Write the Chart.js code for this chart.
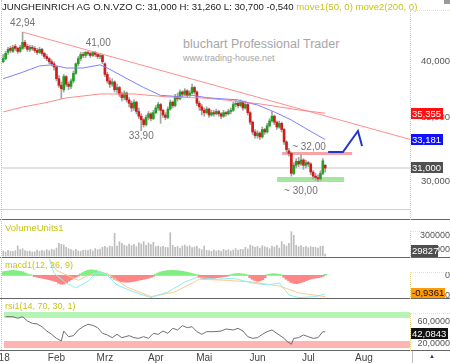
<!DOCTYPE html>
<html lang="de">
<head>
<meta charset="UTF-8">
<title>Jungheinrich Chart</title>
<style>
    body { margin: 0; background: #fff; }
    #wrap { position: relative; width: 450px; height: 363px; overflow: hidden; font-family: "Liberation Sans", Arial, sans-serif; }
    #wrap canvas { position: absolute; left: 0; }
    .txt { position: absolute; white-space: nowrap; }
    .ind { color: #c9c416; }
    .sep { position: absolute; left: 0; width: 450px; height: 1px; background: #666; }
    .rdot { position: absolute; left: 410px; width: 39px; border-left: 1px dotted #e2d27e; border-top: 1px dotted #eee2a8; }
    .ldot { position: absolute; left: 1px; width: 0; border-left: 1px dotted #c4c4c4; }
</style>
</head>
<body>
<div id="wrap">
    <!-- watermark -->
    <div class="txt" style="left:183px;top:37px;font-size:12.5px;color:#a6a6a6;">bluchart Professional Trader</div>
    <div class="txt" style="left:183px;top:53px;font-size:9px;color:#a6a6a6;">www.trading-house.net</div>

    <canvas id="cPrice" width="450" height="219" style="top:0"></canvas>
    <canvas id="cVol" width="450" height="37" style="top:220px"></canvas>
    <canvas id="cMacd" width="450" height="40" style="top:258px"></canvas>
    <canvas id="cRsi" width="450" height="64" style="top:299px"></canvas>

    <div class="txt" id="title" style="left:2px;top:1px;font-size:9.6px;color:#1a1a1a;"></div>
    <div class="txt ind" style="left:5px;top:222px;font-size:9.5px;">VolumeUnits1</div>
    <div class="txt ind" style="left:5px;top:260px;font-size:9px;">macd1(12, 26, 9)</div>
    <div class="txt ind" style="left:5px;top:301px;font-size:9px;">rsi1(14, 70, 30, 1)</div>

    <!-- panel frames -->
    <div style="position:absolute;left:0;top:209px;width:410px;height:1px;background:#d0d0d0;"></div>
    <div class="sep" style="top:219px"></div>
    <div class="sep" style="top:257px"></div>
    <div class="sep" style="top:298px"></div>
    <div class="sep" style="top:350px"></div>
    <div class="ldot" style="top:0;height:350px"></div>
    <div class="rdot" style="top:10px;height:209px"></div>
    <div class="rdot" style="top:231px;height:26px"></div>
    <div class="rdot" style="top:272px;height:26px"></div>
    <div class="rdot" style="top:313px;height:37px"></div>
    <div style="position:absolute;left:444px;top:0;width:6px;height:4px;background:#9a9a9a;"></div>
    <div style="position:absolute;left:412px;top:351px;width:1px;height:12px;background:#bdbdbd;"></div>
    <div class="txt" style="left:429px;top:353px;font-size:6px;color:#23318c;">▲</div>
</div>
<script src="https://cdn.jsdelivr.net/npm/chart.js"></script>
<script>
    // Handelstage: Index 0 = 2. Jan 2018
    const monthDays = [0, 22, 42, 63, 83, 105, 126, 149];
    const monthLabels = ["'18", 'Feb', 'Mrz', 'Apr', 'Mai', 'Jun', 'Jul', 'Aug'];

    const opens = [40.00,40.30,40.90,41.30,41.00,41.50,41.30,41.00,41.30,41.90, 41.50,41.20,41.40,41.30,41.10,40.90,41.20,40.80,40.50,40.30,
        40.00,39.80,39.50,38.40,37.80,37.40,38.60,37.90,37.70,38.20, 38.90,39.80,40.30,40.70,40.60,40.90,40.80,40.60,40.90,40.70,
        40.50,40.60,39.80,38.80,38.20,37.90,38.10,37.40,37.60,37.00, 36.70,37.10,36.50,36.20,35.80,36.30,35.50,35.10,34.80,34.40,
        35.00,35.30,34.90,35.40,35.80,36.10,35.60,35.20,35.00,35.70, 36.30,36.00,36.80,36.60,37.20,37.00,37.30,36.90,37.10,37.60,
        37.20,36.20,35.90,35.60,35.40,35.70,35.20,35.40,35.30,35.50, 35.30,35.10,35.40,35.30,35.50,35.60,36.10,36.20,36.00,36.30,
        35.80,36.10,35.40,34.60,33.80,33.50,33.70,33.40,34.00,33.80, 34.30,34.70,35.10,34.60,34.20,34.50,34.00,33.00,32.30,32.10,
        30.60,31.20,31.50,31.30,31.60,31.20,31.40,31.30,30.70,30.40, 30.30,30.20,30.60,31.20];
    const highs = [40.70,41.00,41.40,41.50,41.60,41.70,41.40,41.60,42.94,42.10, 41.70,41.60,41.60,41.50,41.30,41.40,41.30,40.90,40.70,40.40,
        40.20,40.00,39.60,38.70,38.10,38.80,38.70,38.10,38.40,39.10, 39.90,40.50,40.90,40.90,41.00,41.00,40.90,41.00,41.00,40.80,
        40.80,40.70,39.90,39.00,38.50,38.40,38.20,37.90,37.70,37.20, 37.30,37.20,36.70,36.40,36.50,36.40,35.80,35.30,34.90,35.20,
        35.50,35.40,35.60,36.00,36.30,36.20,35.70,35.40,35.90,36.50, 36.40,37.00,37.10,37.40,37.30,37.50,37.40,37.30,37.90,37.70,
        37.30,36.40,36.10,35.80,35.90,35.80,35.60,35.60,35.70,35.60, 35.40,35.60,35.50,35.70,35.80,36.30,36.50,36.40,36.50,36.40,
        36.40,36.20,35.50,34.70,34.00,33.90,33.80,34.20,34.10,34.50, 34.90,35.50,35.20,34.70,34.70,34.60,34.10,33.10,32.50,32.20,
        31.40,31.70,31.80,32.00,31.70,31.60,31.50,31.40,30.80,30.60, 30.50,30.80,31.70,31.26];
    const lows = [39.90,40.20,40.70,40.90,40.90,41.10,40.80,40.90,41.20,41.30, 41.00,41.00,41.10,40.90,40.70,40.80,40.60,40.30,40.10,39.80,
        39.60,39.20,38.20,37.60,36.60,37.20,37.70,37.40,37.50,38.00, 38.80,39.60,40.10,40.40,40.40,40.60,40.40,40.50,40.50,40.30,
        40.30,39.80,38.60,38.00,37.60,37.70,37.20,37.10,36.80,36.40, 36.50,36.30,35.90,35.50,35.60,35.30,34.90,33.90,34.20,34.30,
        34.80,34.70,34.80,35.30,35.60,34.50,35.00,34.80,34.90,35.60, 35.80,35.90,36.40,36.50,36.80,36.90,36.70,36.80,37.00,37.00,
        36.00,35.60,35.20,35.10,35.30,35.00,35.10,35.10,35.20,35.10, 34.90,35.00,35.10,35.20,35.30,35.50,35.90,35.80,35.90,35.60,
        35.70,35.20,34.40,33.60,33.30,33.30,33.20,33.30,33.60,33.70, 34.20,34.60,34.40,34.00,34.10,33.80,32.80,32.20,31.90,30.40,
        30.50,31.00,31.10,31.20,30.90,31.00,31.10,30.50,30.20,30.10, 30.00,30.10,30.50,30.70];
    const closes = [40.30,40.80,41.20,41.10,41.40,41.30,41.00,41.40,41.90,41.50, 41.20,41.40,41.30,41.10,40.90,41.20,40.80,40.50,40.30,40.00,
        39.80,39.50,38.40,37.80,37.50,38.60,37.90,37.70,38.20,38.90, 39.80,40.30,40.70,40.60,40.90,40.80,40.60,40.90,40.70,40.50,
        40.60,40.00,38.80,38.20,37.90,38.10,37.40,37.60,37.00,36.70, 37.10,36.50,36.20,35.80,36.30,35.50,35.10,34.80,34.40,35.00,
        35.30,34.90,35.40,35.80,36.10,35.60,35.20,35.00,35.70,36.30, 36.00,36.80,36.60,37.20,37.00,37.30,36.90,37.10,37.60,37.20,
        36.20,35.90,35.60,35.40,35.70,35.20,35.40,35.30,35.50,35.30, 35.10,35.40,35.30,35.50,35.60,36.10,36.20,36.00,36.30,35.80,
        36.10,35.40,34.60,33.80,33.50,33.70,33.40,34.00,33.80,34.30, 34.70,35.10,34.60,34.20,34.50,34.00,33.00,32.40,32.10,30.60,
        31.20,31.50,31.30,31.60,31.20,31.40,31.30,30.70,30.40,30.30, 30.20,30.60,31.54,31.00];

    // gleitende Durchschnitte
    const ma50Days = [0, 8, 15, 20, 26, 33, 40, 43, 52, 58, 65, 72, 78, 84, 90, 97, 102, 105, 112, 119, 126, 133];
    const ma50 = [38.4, 39.0, 39.6, 39.7, 39.4, 39.4, 39.7, 39.4, 38.3, 37.6, 36.9, 36.8, 36.9, 36.7, 36.6, 36.5, 36.2, 36.06, 35.46, 34.78, 33.96, 33.181];
    const ma200Days = [0, 8, 17, 26, 40, 54, 68, 82, 92, 106, 122, 133];
    const ma200 = [35.46, 35.88, 36.23, 36.67, 37.02, 37.02, 36.76, 36.67, 36.49, 36.15, 35.63, 35.355];

    // Trendlinie, Widerstand, Unterstuetzung, Prognose
    const trendDays = [8, 168];
    const trendPrices = [42.94, 33.2];
    const resistDays = [115.2, 144.1];
    const resistPrices = [32.10, 32.10];
    const supportDays = [113.1, 140.8];
    const supportPrices = [30.16, 30.16];
    const projDays = [134.2, 140.3, 146.5, 148.2];
    const projPrices = [32.21, 32.21, 33.88, 32.68];
    const noteTexts = ['42,94', '41,00', '33,90', '~ 32,00', '~ 30,00'];
    const noteDays = [8, 38, 57, 115.2, 113.1];
    const notePrices = [42.94, 41.00, 33.90, 32.10, 30.16];

    const volumes = [75000,60000,85000,70000,65000, 80000,150000,95000,
        110000,80000,70000,75000,60000,65000,90000,70000,85000,75000,95000,80000,100000,90000,120000,
        190000,175000,165000,
        130000,110000,95000,80000,100000,75000,70000,85000,90000,80000,100000,75000,110000,95000,105000,
        130000,145000,125000,150000,140000, 340000, 150000,215000,
        190000,165000,150000,180000,155000,175000,140000,
        200000,180000,215000,160000,195000,170000,205000,
        140000,150000,135000,145000,130000,125000, 350000,
        160000,130000,145000,120000,150000,165000,140000,155000,125000,135000,145000,
        110000,95000,150000,85000,80000,70000,90000,75000,85000,70000,100000,80000,95000,75000,90000,110000,85000,100000,95000,130000,105000,
        165000,150000,130000,145000,120000,155000,140000,125000,110000,150000,135000,160000,120000,
        215000,170000,150000,190000,365000,310000,
        160000,140000,155000,130000,145000,125000,140000,135000,130000,120000,145000,150000,
        29827];

    const macdHist = [0.18,0.20,0.22,0.24,0.25,0.24,0.22,0.20,0.18,0.12, 0.06,0.03,0.01,
        -0.06,-0.09,-0.12,-0.14,-0.17,-0.19,-0.22,-0.25,-0.28,-0.32, -0.40,-0.45,-0.44,-0.38,
        -0.30,-0.22,-0.15,-0.09,-0.04,
        0.08,0.14,0.20,0.25,0.28,0.27,0.26,0.22,0.18,0.14,0.08,0.03, 0.01,
        -0.12,-0.20,-0.25,-0.30,-0.32,-0.34,-0.35,-0.34,-0.32,-0.30,-0.28,-0.25,-0.22,-0.20,-0.17,-0.14,-0.10,-0.05,
        0.06,0.12,0.17,0.20,0.22,0.24,0.25,0.25,0.24,0.23,0.22,0.20,0.18,0.15,0.12,0.09,0.06,0.03,
        -0.08,-0.14,-0.18,-0.20,-0.19,-0.17,-0.15,-0.13,-0.11,-0.09,-0.07,-0.05,-0.03,
        0.03,0.06,0.08,0.09,0.08,0.07,0.05,0.02,
        -0.12,-0.20,-0.26,-0.30,-0.28,-0.22,-0.12,
        0.03,0.06,0.08,0.08,0.07,0.05,0.02,
        -0.10,-0.20,-0.28,-0.36,-0.40,-0.42,-0.40,-0.36,-0.32,-0.27,-0.22,-0.18,
        -0.15,-0.14,-0.12,-0.09,-0.05, 0.05];
    const macdDays = [19, 21, 26, 30, 35, 39, 43, 47, 54, 61, 68, 75, 80, 88, 95, 103, 109, 114, 118, 122, 129, 133];
    const macdLine = [0.84, 0.10, -0.39, -0.64, -0.30, 0.20, 0.00, -0.49, -0.84, -1.13, -0.84, -0.34, -0.10, -0.20, -0.15, -0.39, -0.49, -0.39, -0.99, -1.13, -1.08, -0.9361];
    const signalDays = [19, 22, 31, 37, 43, 51, 61, 71, 81, 92, 103, 114, 122, 133];
    const signalLine = [0.84, 0.25, -0.25, 0.10, 0.10, -0.59, -1.08, -0.84, -0.20, -0.25, -0.34, -0.54, -0.89, -1.08];

    const rsiDays = [1, 4, 6, 8, 10, 12, 14, 16, 18, 20, 22, 24, 25, 27, 29, 31, 33, 35, 37, 39, 41, 43, 45, 47, 49, 52, 54, 56, 58, 60,
        62, 64, 66, 68, 70, 72, 74, 76, 78, 80, 82, 84, 87, 90, 92, 95, 97, 99, 101, 103, 105, 107, 109, 111, 113, 116, 117, 119, 120,
        122, 124, 126, 128, 130, 132, 133];
    const rsiValues = [69.6, 69.6, 66.7, 69.6, 61.8, 57.6, 56.4, 51.5, 43.6, 37.6, 30.3, 25.5, 43.6, 33.3, 35.2, 45.5, 51.5, 55.8, 53.9, 49.7,
        39.4, 36.4, 31.5, 37.6, 31.5, 35.2, 31.5, 30.3, 33.3, 30.3, 39.4, 37.6, 43.6, 39.4, 48.5, 45.5, 53.3, 49.7, 51.5, 42.4,
        37.6, 42.4, 42.4, 43.6, 47.3, 45.5, 48.5, 43.6, 33.3, 30.3, 31.5, 37.6, 42.4, 45.5, 39.4, 30.3, 25.5, 19.5, 30.3,
        31.5, 36.4, 33.3, 30.3, 31.5, 42.4, 42.0843];
    const rsiZoneHigh = [67.3, 78.2];
    const rsiZoneLow = [12.7, 25.5];

    const priceTicks = [30, 35, 40];
    const volumeTicks = [100000, 300000];
    const macdTicks = [-1, 0];
    const rsiTicks = [20, 60];

    const X_MIN = -0.5, X_MAX = 168;
    const GREEN = '#22a022', RED = '#d21c1c';
    const FONT = '"Liberation Sans", Arial, sans-serif';

    Chart.defaults.font.family = FONT;
    Chart.defaults.font.size = 10;
    Chart.defaults.color = '#555';
    Chart.defaults.animation = false;
    Chart.defaults.plugins.legend.display = false;
    Chart.defaults.plugins.tooltip.enabled = false;

    const f = (v, d) => v.toFixed(d).replace('.', ',');
    const pts = (xs, ys) => xs.map((x, k) => ({ x: x, y: ys[k] }));
    const days = closes.map((c, i) => i);
    const last = closes.length - 1;

    document.getElementById('title').innerHTML = 'JUNGHEINRICH AG O.N.VZO C: ' + f(closes[last], 3) +
        ' H: ' + f(highs[last], 3) + ' L: ' + f(lows[last], 3) + ' ' + f(closes[last] - closes[last - 1], 3) +
        ' <span class="ind">move1(50, 0) move2(200, 0)</span>';

    function hiddenX() {
        return { type: 'linear', min: X_MIN, max: X_MAX, offset: false, display: false };
    }
    function setTicks(values) {
        return function (s) { s.ticks = values.map(v => ({ value: v })); };
    }
    function rightY(opts) {
        return Object.assign({
            position: 'right',
            grid: { display: false, drawTicks: false },
            border: { display: false },
            afterFit: function (s) { s.width = 40; s.paddingTop = 0; s.paddingBottom = 0; }
        }, opts);
    }
    function line(xs, ys, color, width, order) {
        return { type: 'line', data: pts(xs, ys), borderColor: color, borderWidth: width, pointRadius: 0, tension: 0, order: order };
    }
    // Wertekaesten an der rechten Achse
    function valueBox(chart, yMid, text, bg, fg, w, h) {
        const ctx = chart.ctx, a = chart.chartArea;
        const top = Math.round(Math.min(yMid - h / 2, a.bottom - h));
        ctx.save();
        ctx.fillStyle = bg;
        ctx.fillRect(411, top, w, h);
        ctx.fillStyle = fg;
        ctx.font = '9.5px ' + FONT;
        ctx.textAlign = 'left';
        ctx.textBaseline = 'middle';
        ctx.fillText(text, 412, top + h / 2 + 0.5);
        ctx.restore();
    }

    const noteOffsets = [[0, -8.5, 'center'], [3, -8.5, 'center'], [0, 6, 'center'], [10, -6, 'left'], [7, 11.5, 'left']];
    const pricePlugin = {
        id: 'priceDecor',
        afterDatasetsDraw(chart) {
            const { ctx, scales: { x, y } } = chart;
            ctx.save();
            ctx.font = '10px ' + FONT;
            ctx.fillStyle = '#737373';
            ctx.textBaseline = 'middle';
            noteTexts.forEach((t, k) => {
                ctx.textAlign = noteOffsets[k][2];
                ctx.fillText(t, x.getPixelForValue(noteDays[k]) + noteOffsets[k][0], y.getPixelForValue(notePrices[k]) + noteOffsets[k][1]);
            });
            ctx.restore();
        },
        afterDraw(chart) {
            const y = chart.scales.y;
            valueBox(chart, y.getPixelForValue(ma200[ma200.length - 1]), f(ma200[ma200.length - 1], 3), '#ff1010', '#fff', 32, 11);
            valueBox(chart, y.getPixelForValue(ma50[ma50.length - 1]), f(ma50[ma50.length - 1], 3), '#1010ff', '#fff', 32, 11);
            valueBox(chart, y.getPixelForValue(closes[last]), f(closes[last], 3), '#505050', '#fff', 32, 11);
        }
    };

    new Chart(document.getElementById('cPrice'), {
        type: 'bar',
        data: {
            datasets: [
                line(ma50Days, ma50, '#7f7fff', 1, 0),
                line(ma200Days, ma200, '#ff8a8a', 1, 0),
                line(trendDays, trendPrices, '#ff8f8f', 1, 0),
                line(projDays, projPrices, '#2436c8', 2, 0),
                {
                    data: days.map(i => ({ x: i, y: [opens[i], closes[i]] })),
                    backgroundColor: days.map(i => closes[i] >= opens[i] ? GREEN : RED),
                    barThickness: 2, grouped: false, minBarLength: 1, order: 1
                },
                {
                    data: days.map(i => ({ x: i, y: [lows[i], highs[i]] })),
                    backgroundColor: '#a2a2a2', barThickness: 1, grouped: false, order: 2
                },
                line(resistDays, resistPrices, '#f6a4a4', 3, 3),
                line(supportDays, supportPrices, '#a4e6a0', 5, 3),
                line([X_MIN, X_MAX], [closes[last], closes[last]], '#c6c6c6', 1, 4)
            ]
        },
        options: {
            responsive: false,
            layout: { padding: { left: 2, right: 0, top: 0, bottom: 0 } },
            scales: {
                x: hiddenX(),
                y: rightY({
                    type: 'logarithmic', min: 27.43, max: 46.38,
                    afterBuildTicks: setTicks(priceTicks),
                    ticks: { padding: 8, crossAlign: 'far', color: '#555', font: { size: 9.5 }, callback: v => f(v, 3) }
                })
            }
        },
        plugins: [pricePlugin]
    });

    new Chart(document.getElementById('cVol'), {
        type: 'bar',
        data: {
            datasets: [{
                data: days.map(i => ({ x: i, y: volumes[i] })),
                backgroundColor: '#bdbdbd', barThickness: 1, grouped: false
            }]
        },
        options: {
            responsive: false,
            layout: { padding: { left: 2 } },
            scales: {
                x: hiddenX(),
                y: rightY({
                    min: -15000, max: 540000,
                    afterBuildTicks: setTicks(volumeTicks),
                    ticks: { padding: 7, crossAlign: 'far', color: '#555', font: { size: 9 }, callback: v => String(v) }
                })
            }
        },
        plugins: [{
            id: 'volBox',
            afterDraw(chart) {
                valueBox(chart, chart.scales.y.getPixelForValue(volumes[last]), String(volumes[last]), '#4e4e4e', '#fff', 27, 12);
            }
        }]
    });

    new Chart(document.getElementById('cMacd'), {
        type: 'bar',
        data: {
            datasets: [
                line(macdDays, macdLine, '#8ceeee', 1, 0),
                line(signalDays, signalLine, '#ffc98c', 1, 0),
                {
                    data: days.map(i => ({ x: i, y: macdHist[i] })),
                    backgroundColor: macdHist.map(v => v >= 0 ? '#80ee80' : '#ff8686'),
                    barThickness: 3, grouped: false, order: 1
                }
            ]
        },
        options: {
            responsive: false,
            layout: { padding: { left: 2 } },
            scales: {
                x: hiddenX(),
                y: rightY({
                    min: -1.15, max: 0.88,
                    afterBuildTicks: setTicks(macdTicks),
                    ticks: { padding: 20, crossAlign: 'far', color: '#555', font: { size: 9 }, callback: v => v === 0 ? '0' : f(v, 1) }
                })
            }
        },
        plugins: [{
            id: 'macdBox',
            afterDraw(chart) {
                const v = macdLine[macdLine.length - 1];
                valueBox(chart, chart.scales.y.getPixelForValue(v) + 1.5, f(v, 4), '#ff9a0a', '#111', 34, 10);
            }
        }]
    });

    new Chart(document.getElementById('cRsi'), {
        type: 'line',
        data: {
            datasets: [line(rsiDays, rsiValues, '#707070', 1, 0)]
        },
        options: {
            responsive: false,
            layout: { padding: { left: 2 } },
            scales: {
                x: {
                    type: 'linear', min: X_MIN, max: X_MAX, offset: false, position: 'bottom',
                    grid: { display: false, drawTicks: false }, border: { display: false },
                    afterBuildTicks: setTicks(monthDays),
                    afterFit: function (s) { s.height = 13; s.paddingLeft = 0; s.paddingRight = 0; },
                    ticks: {
                        autoSkip: false, maxRotation: 0, padding: 2, color: '#444', font: { size: 10 },
                        callback: v => monthLabels[monthDays.indexOf(v)]
                    }
                },
                y: rightY({
                    min: 9.1, max: 101.8,
                    afterBuildTicks: setTicks(rsiTicks),
                    ticks: { padding: 3, crossAlign: 'far', color: '#555', font: { size: 9 }, callback: v => f(v, 4) }
                })
            }
        },
        plugins: [{
            id: 'rsiZones',
            beforeDatasetsDraw(chart) {
                const { ctx, chartArea: a, scales: { y } } = chart;
                ctx.save();
                ctx.fillStyle = '#b6f4b6';
                ctx.fillRect(a.left + 2, y.getPixelForValue(rsiZoneHigh[1]), a.right - a.left - 2,
                    y.getPixelForValue(rsiZoneHigh[0]) - y.getPixelForValue(rsiZoneHigh[1]));
                ctx.fillStyle = '#ffb4b4';
                ctx.fillRect(a.left + 2, y.getPixelForValue(rsiZoneLow[1]), a.right - a.left - 2,
                    y.getPixelForValue(rsiZoneLow[0]) - y.getPixelForValue(rsiZoneLow[1]));
                ctx.restore();
            },
            afterDraw(chart) {
                const v = rsiValues[rsiValues.length - 1];
                valueBox(chart, chart.scales.y.getPixelForValue(v) + 1.5, f(v, 4), '#111', '#fff', 37, 11);
            }
        }]
    });
</script>
</body>
</html>
